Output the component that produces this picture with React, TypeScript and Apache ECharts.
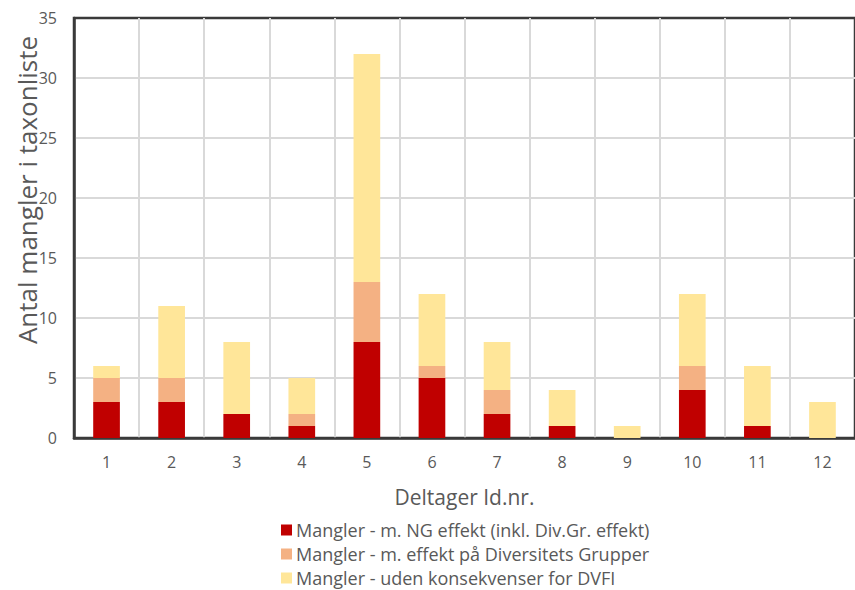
import React, { useEffect, useRef } from "react";
import * as echarts from "echarts";

const categories = ["1", "2", "3", "4", "5", "6", "7", "8", "9", "10", "11", "12"];
const ngEffekt = [3, 3, 2, 1, 8, 5, 2, 1, 0, 4, 1, 0];
const divGrupper = [2, 2, 0, 1, 5, 1, 2, 0, 0, 2, 0, 0];
const udenKonsekvenser = [1, 6, 6, 3, 19, 6, 4, 3, 1, 6, 5, 3];
const seriesNames = [
  "Mangler - m. NG effekt (inkl. Div.Gr. effekt)",
  "Mangler - m. effekt på Diversitets Grupper",
  "Mangler - uden konsekvenser for DVFI",
];
const colors = ["#C00000", "#F4B183", "#FFE699"];
const yTitle = "Antal mangler i taxonliste";
const xTitle = "Deltager Id.nr.";

export default function App() {
  const ref = useRef<HTMLDivElement>(null);
  useEffect(() => {
    if (!ref.current) return;
    const chart = echarts.init(ref.current, undefined, { renderer: "svg" });
    const font = "'Open Sans', 'Liberation Sans', sans-serif";
    const data = [ngEffekt, divGrupper, udenKonsekvenser];
    chart.setOption({
      animation: false,
      textStyle: { fontFamily: font },
      grid: {
        left: 74,
        top: 18,
        width: 788,
        height: 420,
        show: true,
        borderColor: "#3A3A3A",
        borderWidth: 2.5,
        containLabel: false,
      },
      graphic: [
        {
          type: "text",
          x: 27,
          y: 190,
          rotation: Math.PI / 2,
          style: {
            text: yTitle,
            fontSize: 26,
            fontFamily: font,
            fill: "#595959",
            align: "center",
            verticalAlign: "middle",
          },
        },
      ],
      legend: {
        orient: "vertical",
        left: 281,
        top: 521,
        height: 70,
        padding: 0,
        itemWidth: 11,
        itemHeight: 11,
        itemGap: 6,
        icon: "rect",
        textStyle: { fontSize: 18, color: "#595959", fontFamily: font, padding: [0, 0, 0, -1] },
        data: seriesNames,
      },
      xAxis: {
        type: "category",
        data: categories,
        name: xTitle,
        nameLocation: "middle",
        nameGap: 48,
        nameTextStyle: { fontSize: 21, color: "#595959", fontFamily: font },
        axisLine: { show: true, lineStyle: { color: "#3A3A3A", width: 2.5 } },
        axisTick: { show: false },
        axisLabel: { fontSize: 16, color: "#595959", margin: 16 },
        splitLine: {
          show: true,
          showMinLine: false,
          showMaxLine: false,
          lineStyle: { color: "#D9D9D9", width: 2 },
        },
      },
      yAxis: {
        type: "value",
        min: 0,
        max: 35,
        interval: 5,
        axisLine: { show: true, lineStyle: { color: "#3A3A3A", width: 2.5 } },
        axisTick: { show: false },
        axisLabel: { fontSize: 16, color: "#595959", margin: 17 },
        splitLine: {
          show: true,
          showMinLine: false,
          showMaxLine: false,
          lineStyle: { color: "#D9D9D9", width: 2 },
        },
      },
      series: seriesNames.map((name, i) => ({
        name,
        type: "bar",
        stack: "total",
        barWidth: "41%",
        data: data[i],
        itemStyle: { color: colors[i] },
      })),
    });
    return () => chart.dispose();
  }, []);
  return <div ref={ref} style={{ width: 855, height: 590, position: "absolute", left: 0, top: 0, background: "#fff" }} />;
}
